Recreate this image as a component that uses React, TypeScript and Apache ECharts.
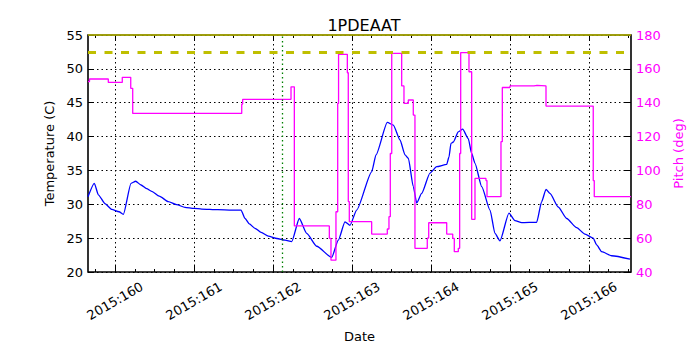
import React, { useEffect, useRef } from "react";
import * as echarts from "echarts";

// ---- data (day-of-year 2015, fractional) ----
const tempDays = [
  159.658, 159.738, 159.789, 159.873, 159.958, 160.051, 160.105, 160.203, 160.262, 160.329,
  160.40, 160.465, 160.56, 160.675, 160.78, 160.886, 161.0, 161.097, 161.3, 161.477,
  161.595, 161.646, 161.70, 161.772, 161.85, 161.941, 162.05, 162.152, 162.237, 162.333,
  162.427, 162.553, 162.743, 162.827, 162.911, 162.975, 163.059, 163.249, 163.304, 163.447,
  163.523, 163.608, 163.671, 163.713, 163.776, 163.819, 163.882, 163.987, 164.072, 164.199,
  164.228, 164.253, 164.282, 164.346, 164.401, 164.472, 164.515, 164.557, 164.642, 164.747,
  164.810, 164.873, 164.987, 165.063, 165.148, 165.338, 165.401, 165.456, 165.506, 165.611,
  165.718, 165.844, 165.949, 166.054, 166.097, 166.161, 166.287, 166.519,
];
const tempValues = [
  31.1, 33.1, 31.4, 30.1, 29.25, 28.9, 28.5, 33.1, 33.4, 32.85,
  32.3, 31.9, 31.2, 30.4, 29.95, 29.55, 29.4, 29.3, 29.2, 29.15,
  29.15, 27.9, 27.1, 26.45, 25.85, 25.3, 24.95, 24.7, 24.5, 27.9,
  25.7, 23.8, 22.15, 24.7, 27.4, 26.9, 29.15, 34.8, 37.3, 42.1,
  41.7, 39.5, 37.3, 36.8, 32.6, 30.2, 31.6, 34.6, 35.55, 35.9,
  37.0, 39.0, 39.2, 40.7, 41.1, 39.7, 37.5, 36.05, 32.6, 29.15,
  25.7, 24.6, 28.7, 27.6, 27.3, 27.35, 30.4, 32.2, 31.6, 29.6,
  27.9, 26.55, 25.6, 25.0, 24.0, 23.0, 22.4, 21.9,
];

const pitchDays = [
  159.658, 159.677, 159.915, 160.092, 160.199, 160.224, 161.604, 161.616, 162.228, 162.270,
  162.713, 162.734, 162.797, 162.819, 162.830, 162.941, 162.953, 162.966, 163.249, 163.447,
  163.468, 163.485, 163.503, 163.629, 163.658, 163.713, 163.776, 163.797, 163.953, 163.971,
  164.199, 164.275, 164.295, 164.346, 164.363, 164.376, 164.481, 164.515, 164.557, 164.696,
  164.709, 164.886, 164.903, 165.000, 165.304, 165.342, 165.456, 166.054, 166.067, 166.532,
];
const pitchValues = [
  152.5, 154, 152, 155, 148.5, 133.7, 139.2, 142, 149.4, 67.2,
  59.9, 47, 75.6, 139.6, 168.6, 157.7, 81.6, 69.7, 62.4, 65.4,
  72.7, 110, 169.2, 149.9, 139.6, 141.6, 132.7, 54, 60, 69.1,
  62.4, 59.9, 52, 54, 110, 169.6, 158.3, 71.1, 95.3, 94,
  84.5, 117, 149, 149.9, 150.3, 149.9, 138, 94, 84.5, 84.5,
];

const dayTicks = [160, 161, 162, 163, 164, 165, 166];
const minorDayTicks = [
  159.75, 160, 160.25, 160.5, 160.75, 161, 161.25, 161.5, 161.75, 162, 162.25, 162.5, 162.75,
  163, 163.25, 163.5, 163.75, 164, 164.25, 164.5, 164.75, 165, 165.25, 165.5, 165.75,
  166, 166.25, 166.5,
];
const planningLimit = 52.5;
const topLimit = 55;
const markerDay = 162.12;

const X_MIN = 159.658;
const X_MAX = 166.532;
const FONT = "DejaVu Sans";

export default function App() {
  const ref = useRef<HTMLDivElement>(null);

  useEffect(() => {
    if (!ref.current) return;
    const chart = echarts.init(ref.current, null, { renderer: "svg" });

    const tempData = tempDays.map((d, i) => [d, tempValues[i]]);
    const pitchData = pitchDays.map((d, i) => [d, pitchValues[i]]);

    const xCommon = {
      type: "value" as const,
      min: X_MIN,
      max: X_MAX,
      gridIndex: 0,
      axisLine: { show: false },
      splitLine: { show: false },
    };

    chart.setOption({
      animation: false,
      backgroundColor: "#ffffff",
      textStyle: { fontFamily: FONT },
      title: {
        text: "1PDEAAT",
        left: 359,
        textAlign: "center",
        top: 12,
        textStyle: { fontFamily: FONT, fontSize: 16, fontWeight: "normal", color: "#000" },
      },
      grid: {
        left: 88,
        right: 69,
        top: 35,
        bottom: 78,
        show: true,
        borderColor: "#000",
        borderWidth: 1.6,
        backgroundColor: "transparent",
      },
      xAxis: [
        {
          ...xCommon,
          position: "bottom",
          name: "Date",
          nameLocation: "middle",
          nameGap: 58,
          nameTextStyle: { fontFamily: FONT, fontSize: 13, color: "#000" },
          axisTick: {
            show: true,
            inside: true,
            length: 6,
            customValues: dayTicks,
            lineStyle: { color: "#000", width: 1 },
          },
          axisLabel: {
            customValues: dayTicks,
            formatter: (v: number) => "2015:" + Math.round(v),
            rotate: 30,
            align: "center",
            verticalAlign: "middle",
            margin: 29,
            fontFamily: FONT,
            fontSize: 13,
            color: "#000",
          },
          splitLine: {
            show: true,
            lineStyle: { color: "#000", type: [1.5, 3], width: 1 },
          },
        },
        {
          ...xCommon,
          position: "bottom",
          axisLabel: { show: false },
          axisTick: {
            show: true,
            inside: true,
            length: 3,
            customValues: minorDayTicks,
            lineStyle: { color: "#000", width: 1 },
          },
        },
        {
          ...xCommon,
          position: "top",
          axisLabel: { show: false },
          axisTick: {
            show: true,
            inside: true,
            length: 6,
            customValues: dayTicks,
            lineStyle: { color: "#000", width: 1 },
          },
        },
        {
          ...xCommon,
          position: "top",
          axisLabel: { show: false },
          axisTick: {
            show: true,
            inside: true,
            length: 3,
            customValues: minorDayTicks,
            lineStyle: { color: "#000", width: 1 },
          },
        },
      ],
      yAxis: [
        {
          type: "value",
          position: "left",
          min: 20,
          max: 55,
          interval: 5,
          name: "Temperature (C)",
          nameLocation: "middle",
          nameRotate: 90,
          nameGap: 31,
          nameTextStyle: { fontFamily: FONT, fontSize: 13, color: "#000" },
          axisLine: { show: false },
          axisTick: { show: true, inside: true, length: 6, lineStyle: { color: "#000" } },
          axisLabel: { margin: 5, fontFamily: FONT, fontSize: 13, color: "#000" },
          splitLine: {
            show: true,
            lineStyle: { color: "#000", type: [1.5, 3], width: 1 },
          },
        },
        {
          type: "value",
          position: "right",
          min: 40,
          max: 180,
          interval: 20,
          name: "Pitch (deg)",
          nameLocation: "middle",
          nameRotate: 90,
          nameGap: 34,
          nameTextStyle: { fontFamily: FONT, fontSize: 13, color: "#ff00ff" },
          axisLine: { show: false },
          axisTick: { show: true, inside: true, length: 6, lineStyle: { color: "#000" } },
          axisLabel: { margin: 5, fontFamily: FONT, fontSize: 13, color: "#ff00ff" },
          splitLine: { show: false },
        },
      ],
      series: [
        {
          name: "Temperature",
          type: "line",
          xAxisIndex: 0,
          yAxisIndex: 0,
          data: tempData,
          showSymbol: false,
          smooth: 0.2,
          smoothMonotone: "x",
          lineStyle: { color: "#0000ff", width: 1.3 },
          itemStyle: { color: "#0000ff" },
          z: 3,
          markLine: {
            silent: true,
            symbol: "none",
            label: { show: false },
            data: [
              {
                yAxis: planningLimit,
                lineStyle: { color: "#bfbf00", width: 3, type: [8, 8.5] },
              },
              {
                yAxis: topLimit,
                lineStyle: { color: "#bfbf00", width: 1.5, type: "solid" },
              },
              {
                xAxis: markerDay,
                lineStyle: { color: "#008000", width: 1.3, type: [1.5, 3] },
              },
            ],
          },
        },
        {
          name: "Pitch",
          type: "line",
          xAxisIndex: 0,
          yAxisIndex: 1,
          step: "end",
          data: pitchData,
          showSymbol: false,
          lineStyle: { color: "#ff00ff", width: 1.3 },
          itemStyle: { color: "#ff00ff" },
          z: 4,
        },
      ],
    });

    return () => chart.dispose();
  }, []);

  return (
    <div
      ref={ref}
      style={{ position: "absolute", left: 0, top: 0, width: 700, height: 350, background: "#fff" }}
    />
  );
}
